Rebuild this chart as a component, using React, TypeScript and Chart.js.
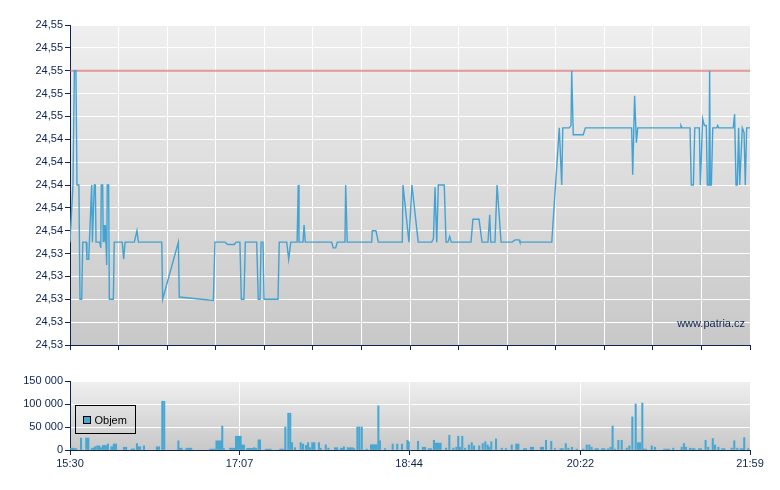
import React, { useEffect, useRef } from 'react';
import { Chart, registerables } from 'chart.js';

Chart.register(...registerables);

// ---- time axis: minutes after 15:30 ----
const sessionMinutes = 389; // 15:30 -> 21:59
const timeLabelPositions = [0, 97, 194, 292, 389];
const timeLabels = ['15:30', '17:07', '18:44', '20:22', '21:59'];

// ---- price series ----
const priceTimes = [
  0, 1.7, 2.5, 3.4, 4.0, 5.1, 5.7, 6.7, 7.3, 9.3,
  9.7, 10.7, 12.4, 12.8, 13.9, 14.5, 14.9, 17.0, 17.6, 17.9,
  18.7, 19.0, 19.6, 20.0, 20.2, 21.0, 21.3, 22.1, 22.5, 24.8,
  25.3, 29.9, 30.7, 31.5, 36.8, 38.3, 39.1, 52.5, 53.0, 62.0,
  62.5, 82.0, 82.9, 88.7, 90.2, 94.0, 95.0, 97.2, 98.0, 99.5,
  100.3, 106.8, 107.7, 108.7, 109.3, 110.4, 111.0, 119.0, 119.7, 124.0,
  125.1, 126.3, 129.9, 130.6, 131.0, 133.3, 133.9, 134.6, 149.7, 150.6,
  152.0, 152.9, 157.3, 157.7, 158.6, 172.6, 172.9, 175.0, 176.4, 190.1,
  190.5, 193.9, 195.6, 199.2, 206.9, 207.9, 208.8, 209.8, 210.7, 214.1,
  215.1, 216.2, 217.2, 218.1, 229.4, 230.5, 234.0, 235.7, 239.1, 240.1,
  240.7, 243.1, 244.3, 246.6, 252.9, 254.6, 256.9, 257.4, 275.6, 279.9,
  281.3, 281.9, 285.6, 286.6, 287.0, 287.9, 293.6, 294.8, 321.3, 321.9,
  323.0, 324.0, 324.8, 349.0, 349.5, 350.1, 354.7, 355.4, 356.6, 357.4,
  360.0, 360.6, 361.9, 362.9, 364.0, 364.6, 365.5, 365.9, 366.3, 366.9,
  367.7, 370.0, 370.5, 371.1, 379.4, 380.2, 381.0, 381.7, 382.5, 383.1,
  384.6, 385.6, 386.3, 387.1, 389.0,
];
const priceValues = [
  24.535, 24.540, 24.550, 24.550, 24.540, 24.540, 24.530, 24.530, 24.535, 24.535,
  24.5335, 24.5335, 24.540, 24.535, 24.540, 24.540, 24.535, 24.535, 24.5345, 24.540,
  24.540, 24.535, 24.5365, 24.535, 24.5365, 24.533, 24.540, 24.540, 24.530, 24.530,
  24.535, 24.535, 24.5335, 24.535, 24.535, 24.536, 24.535, 24.535, 24.530, 24.535,
  24.5302, 24.5299, 24.535, 24.535, 24.5348, 24.5348, 24.535, 24.535, 24.530, 24.530,
  24.535, 24.535, 24.530, 24.530, 24.535, 24.535, 24.530, 24.530, 24.535, 24.535,
  24.5335, 24.535, 24.535, 24.540, 24.535, 24.535, 24.5365, 24.535, 24.535, 24.5345,
  24.5345, 24.535, 24.535, 24.540, 24.535, 24.535, 24.536, 24.536, 24.535, 24.535,
  24.540, 24.535, 24.540, 24.535, 24.535, 24.5353, 24.5398, 24.535, 24.540, 24.540,
  24.535, 24.535, 24.5355, 24.535, 24.535, 24.537, 24.537, 24.535, 24.535, 24.5374,
  24.535, 24.535, 24.540, 24.535, 24.535, 24.5352, 24.5352, 24.535, 24.535, 24.545,
  24.540, 24.545, 24.545, 24.5452, 24.550, 24.5444, 24.5444, 24.545, 24.545, 24.5409,
  24.5478, 24.5437, 24.545, 24.545, 24.5452, 24.545, 24.545, 24.540, 24.540, 24.545,
  24.545, 24.540, 24.5458, 24.5452, 24.5452, 24.540, 24.540, 24.550, 24.540, 24.540,
  24.545, 24.545, 24.5452, 24.545, 24.545, 24.5462, 24.540, 24.540, 24.545, 24.540,
  24.545, 24.5446, 24.540, 24.545, 24.545,
];
const referencePrice = 24.55;
const priceTicks = [
  24.526, 24.528, 24.530, 24.532, 24.534, 24.536, 24.538, 24.540,
  24.542, 24.544, 24.546, 24.548, 24.550, 24.552, 24.554,
];

// ---- volume series (three bar widths) ----
const volThinTimes = [
  6.3, 14.3, 17.7, 21.0, 21.7, 38.3, 42.3, 52.8, 53.9, 62.0,
  87.1, 88.1, 105.3, 106.4, 107.9, 108.7, 123.2, 124.9, 126.0, 127.0,
  128.7, 132.0, 133.3, 135.0, 136.2, 137.3, 142.4, 143.4, 146.3, 147.8,
  156.7, 162.5, 164.4, 165.5, 166.9, 169.7, 176.4, 177.3, 180.2, 184.6,
  187.2, 189.9, 193.0, 193.8, 199.1, 208.2, 215.1, 217.0, 219.3, 221.0,
  222.1, 223.1, 224.4, 226.0, 228.2, 229.8, 231.1, 234.1, 236.1, 237.6,
  238.9, 239.7, 241.0, 243.7, 247.0, 249.4, 252.7, 272.3, 275.3, 277.4,
  283.6, 285.1, 287.2, 289.9, 293.6, 295.6, 297.1, 298.4, 307.9, 309.3,
  310.4, 311.8, 313.7, 315.6, 318.5, 320.0, 321.7, 323.6, 327.4, 332.8,
  334.6, 345.1, 349.9, 351.2, 352.4, 354.7, 363.6, 365.1, 367.7, 369.0,
  370.9, 378.5, 380.0, 381.7, 385.7, 388.0,
];
const volThinValues = [
  26000, 7000, 5000, 9000, 13000, 14000, 9000, 106000, 106000, 20000,
  52000, 3000, 5000, 4000, 22000, 22000, 50000, 80000, 80000, 16000,
  5000, 16000, 13000, 10000, 16000, 5000, 16000, 4000, 11000, 4000,
  7000, 3000, 50000, 50000, 50000, 2000, 96000, 20000, 3000, 13000,
  13000, 13000, 21000, 18000, 19000, 21000, 4000, 32000, 4000, 6000,
  30000, 6000, 30000, 4000, 11000, 16000, 9000, 9000, 14000, 18000,
  11000, 6000, 18000, 24000, 4000, 3000, 11000, 21000, 19000, 3000,
  14000, 4000, 6000, 2000, 2000, 11000, 11000, 6000, 3000, 6000,
  52000, 2000, 21000, 21000, 4000, 9000, 72000, 100000, 102000, 9000,
  6000, 4000, 6000, 14000, 6000, 4000, 21000, 6000, 25000, 11000,
  6000, 4000, 20000, 4000, 27000, 3000,
];
const volMidTimes = [
  1.1, 2.9, 9.9, 13.2, 16.2, 19.5, 24.3, 25.7, 31.5, 36.0,
  39.5, 50.3, 63.2, 98.9, 139.2, 152.2, 155.6, 172.8, 174.8, 202.5,
  205.9, 255.9, 260.3, 264.3, 270.0, 281.3, 301.3, 305.1, 325.5, 328.9,
  356.6, 360.4, 373.7, 384.3,
];
const volMidValues = [
  4000, 3000, 26000, 4000, 9000, 10000, 7000, 13000, 6000, 2500,
  7000, 7000, 4000, 11000, 16000, 5000, 4000, 11500, 11500, 6000,
  3000, 13000, 3000, 6000, 6000, 3000, 3000, 3000, 16000, 2000,
  3000, 3000, 3000, 3000,
];
const volWideTimes = [68.0, 81.5, 85.1, 93.0, 96.3, 102.8, 113.4, 121.6, 160.2, 210.7, 341.3];
const volWideValues = [4000, 2000, 20000, 4000, 30000, 3600, 2000, 2000, 5000, 15000, 2000];
const volumeTicks = [0, 50000, 100000, 150000];

// ---- styles ----
const NAVY = '#0d2352';
const LINE_BLUE = '#43a2d1';
const BAR_BLUE = '#48a7d2';
const FONT = { family: '"Liberation Sans", Arial, sans-serif', size: 11 };

const bgPlugin = {
  id: 'bgGradient',
  beforeDraw(chart: any) {
    const { ctx, chartArea } = chart;
    const { left, top, right, bottom } = chartArea;
    const g = ctx.createLinearGradient(0, top, 0, bottom);
    g.addColorStop(0, '#efefef');
    g.addColorStop(1, '#c8c8c8');
    ctx.save();
    ctx.fillStyle = g;
    ctx.fillRect(left, top, right - left, bottom - top);
    ctx.restore();
  },
};

const watermarkPlugin = {
  id: 'watermark',
  afterDatasetsDraw(chart: any) {
    const { ctx, chartArea } = chart;
    ctx.save();
    ctx.font = '11px "Liberation Sans", Arial, sans-serif';
    ctx.fillStyle = NAVY;
    ctx.textAlign = 'right';
    ctx.textBaseline = 'middle';
    ctx.fillText('www.patria.cz', chartArea.right - 5, chartArea.bottom - 21);
    ctx.restore();
  },
};

const volumeLegendPlugin = {
  id: 'volLegend',
  afterDraw(chart: any) {
    const { ctx, chartArea } = chart;
    const x = chartArea.left + 5.5;
    const y = chartArea.top + 24.5;
    ctx.save();
    ctx.strokeStyle = '#000';
    ctx.lineWidth = 1;
    ctx.strokeRect(x, y, 60, 28);
    ctx.fillStyle = BAR_BLUE;
    ctx.fillRect(x + 8, y + 11, 7, 7);
    ctx.strokeRect(x + 8, y + 11, 7, 7);
    ctx.fillStyle = '#000';
    ctx.font = '11px "Liberation Sans", Arial, sans-serif';
    ctx.textBaseline = 'middle';
    ctx.fillText('Objem', x + 19, y + 15);
    ctx.restore();
  },
};

const mainGridTicks = Array.from({ length: 15 }, (_, i) => (i * sessionMinutes) / 14);

export default function App() {
  const priceRef = useRef<HTMLCanvasElement>(null);
  const volRef = useRef<HTMLCanvasElement>(null);

  useEffect(() => {
    const priceData = priceTimes.map((t, i) => ({ x: t, y: priceValues[i] }));
    const refData = [
      { x: 0, y: referencePrice },
      { x: sessionMinutes, y: referencePrice },
    ];
    const priceChart = new Chart(priceRef.current!, {
      type: 'line',
      data: {
        datasets: [
          {
            data: priceData,
            borderColor: LINE_BLUE,
            borderWidth: 1.4,
            pointRadius: 0,
            tension: 0,
            fill: false,
          },
          {
            data: refData,
            borderColor: 'rgba(214, 86, 86, 0.6)',
            borderWidth: 2,
            pointRadius: 0,
            fill: false,
          },
        ],
      },
      options: {
        animation: false,
        responsive: false,
        events: [],
        layout: { padding: { left: 0, right: 30, top: 25, bottom: 0 } },
        plugins: { legend: { display: false }, tooltip: { enabled: false } },
        scales: {
          x: {
            type: 'linear',
            min: 0,
            max: sessionMinutes,
            afterBuildTicks: (scale: any) => {
              scale.ticks = mainGridTicks.map((v) => ({ value: v }));
            },
            afterFit: (scale: any) => {
              scale.height = 15;
            },
            ticks: { display: false },
            grid: { color: '#ffffff', lineWidth: 1, tickColor: NAVY, tickLength: 5, offset: false },
            border: { color: NAVY, width: 1 },
          },
          y: {
            type: 'linear',
            min: priceTicks[0],
            max: priceTicks[priceTicks.length - 1],
            afterBuildTicks: (scale: any) => {
              scale.ticks = priceTicks.map((v) => ({ value: v }));
            },
            afterFit: (scale: any) => {
              scale.width = 70;
            },
            ticks: {
              color: NAVY,
              font: FONT,
              padding: 2,
              callback: (v: any) => Number(v).toFixed(2).replace('.', ','),
            },
            grid: { color: '#ffffff', lineWidth: 1, tickColor: NAVY, tickLength: 5 },
            border: { color: NAVY, width: 1 },
          },
        },
      } as any,
      plugins: [bgPlugin, watermarkPlugin],
    });

    const mk = (times: number[], vals: number[]) => times.map((t, i) => ({ x: t, y: vals[i] }));
    const volChart = new Chart(volRef.current!, {
      type: 'bar',
      data: {
        datasets: [
          { data: mk(volThinTimes, volThinValues), backgroundColor: BAR_BLUE, barThickness: 1.4, grouped: false },
          { data: mk(volMidTimes, volMidValues), backgroundColor: BAR_BLUE, barThickness: 3.5, grouped: false },
          { data: mk(volWideTimes, volWideValues), backgroundColor: BAR_BLUE, barThickness: 6, grouped: false },
        ] as any,
      },
      options: {
        animation: false,
        responsive: false,
        events: [],
        layout: { padding: { left: 0, right: 30, top: 21, bottom: 0 } },
        plugins: { legend: { display: false }, tooltip: { enabled: false } },
        scales: {
          x: {
            type: 'linear',
            min: 0,
            max: sessionMinutes,
            offset: false,
            afterBuildTicks: (scale: any) => {
              scale.ticks = timeLabelPositions.map((v) => ({ value: v }));
            },
            afterFit: (scale: any) => {
              scale.height = 40;
            },
            ticks: {
              color: NAVY,
              font: FONT,
              padding: 2,
              maxRotation: 0,
              autoSkip: false,
              callback: (v: any) => {
                const i = timeLabelPositions.indexOf(Number(v));
                return i >= 0 ? timeLabels[i] : '';
              },
            },
            grid: { color: '#ffffff', lineWidth: 1, tickColor: NAVY, tickLength: 5, offset: false },
            border: { color: NAVY, width: 1 },
          },
          y: {
            type: 'linear',
            min: 0,
            max: volumeTicks[volumeTicks.length - 1],
            afterBuildTicks: (scale: any) => {
              scale.ticks = volumeTicks.map((v) => ({ value: v }));
            },
            afterFit: (scale: any) => {
              scale.width = 70;
            },
            ticks: {
              color: NAVY,
              font: FONT,
              padding: 2,
              callback: (v: any) => (Number(v) === 0 ? '0' : `${Number(v) / 1000} 000`),
            },
            grid: { color: '#ffffff', lineWidth: 1, tickColor: NAVY, tickLength: 5 },
            border: { color: NAVY, width: 1 },
          },
        },
      } as any,
      plugins: [bgPlugin, volumeLegendPlugin],
    });

    return () => {
      priceChart.destroy();
      volChart.destroy();
    };
  }, []);

  return (
    <div style={{ position: 'absolute', left: 0, top: 0, width: 780, height: 490, background: '#ffffff' }}>
      <canvas ref={priceRef} width={780} height={360} style={{ position: 'absolute', left: 0, top: 0, display: 'block' }} />
      <canvas ref={volRef} width={780} height={130} style={{ position: 'absolute', left: 0, top: 360, display: 'block' }} />
    </div>
  );
}
